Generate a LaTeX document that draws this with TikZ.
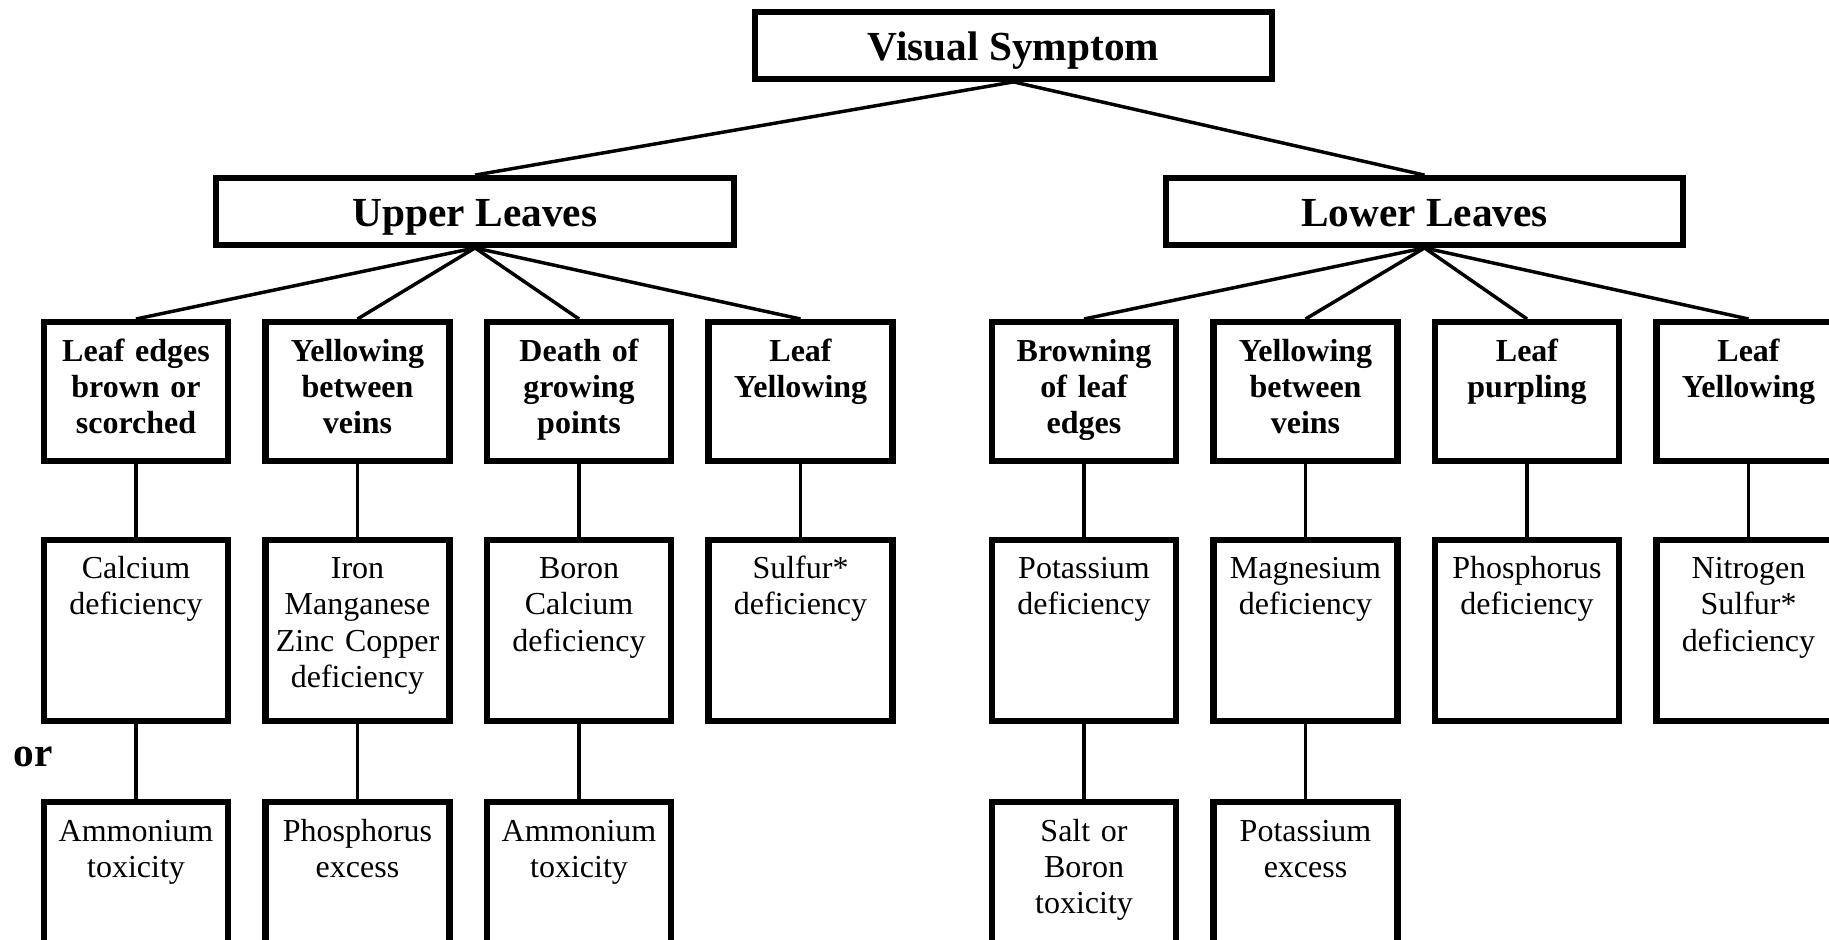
\documentclass[tikz,border=0pt]{standalone}
\usepackage{fontspec}
\setmainfont{Liberation Serif}
\begin{document}
\begin{tikzpicture}[x=0.375pt, y=-0.375pt,
    title/.style={draw, line width=2.3pt, inner sep=0pt, minimum width=194pt, minimum height=25pt, text height=11pt, text depth=0pt, font=\bfseries\fontsize{15.5}{18}\selectfont},
    symptom/.style={draw, line width=2.3pt, inner sep=0pt, anchor=north, text width=69pt, align=center, text height=14.6pt, text depth=37.5pt, font=\bfseries\fontsize{12}{13.6}\selectfont},
    cause/.style={draw, line width=2.3pt, inner sep=0pt, anchor=north, text width=69pt, align=center, text height=14.6pt, text depth=53.3pt, font=\fontsize{12}{13.6}\selectfont},
    link/.style={line width=1.3pt}]
    \useasboundingbox (0,0) rectangle (1829,939);
    \clip (0,0) rectangle (1829,939);

    % Top
    \node[title] (vs) at (1013.5,45.5) {Visual Symptom};
    \node[title] (ul) at (475,211.5) {Upper Leaves};
    \node[title] (ll) at (1424.5,211.5) {Lower Leaves};

    % Upper leaves symptoms
    \node[symptom] (u1) at (136,319) {Leaf edges\\brown or\\scorched};
    \node[symptom] (u2) at (357.5,319) {Yellowing\\between\\veins};
    \node[symptom] (u3) at (579,319) {Death of\\growing\\points};
    \node[symptom] (u4) at (800.5,319) {Leaf\\Yellowing};

    % Lower leaves symptoms
    \node[symptom] (l1) at (1084,319) {Browning\\of leaf\\edges};
    \node[symptom] (l2) at (1305.5,319) {Yellowing\\between\\veins};
    \node[symptom] (l3) at (1527,319) {Leaf\\purpling};
    \node[symptom] (l4) at (1748.5,319) {Leaf\\Yellowing};

    % Deficiencies
    \node[cause] (ud1) at (136,536.5) {Calcium\\deficiency};
    \node[cause] (ud2) at (357.5,536.5) {Iron\\Manganese\\Zinc Copper\\deficiency};
    \node[cause] (ud3) at (579,536.5) {Boron\\Calcium\\deficiency};
    \node[cause] (ud4) at (800.5,536.5) {Sulfur*\\deficiency};
    \node[cause] (ld1) at (1084,536.5) {Potassium\\deficiency};
    \node[cause] (ld2) at (1305.5,536.5) {Magnesium\\deficiency};
    \node[cause] (ld3) at (1527,536.5) {Phosphorus\\deficiency};
    \node[cause] (ld4) at (1748.5,536.5) {Nitrogen\\Sulfur*\\deficiency};

    % Toxicities
    \node[cause] (ut1) at (136,799) {Ammonium\\toxicity};
    \node[cause] (ut2) at (357.5,799) {Phosphorus\\excess};
    \node[cause] (ut3) at (579,799) {Ammonium\\toxicity};
    \node[cause] (lt1) at (1084,799) {Salt or\\Boron\\toxicity};
    \node[cause] (lt2) at (1305.5,799) {Potassium\\excess};

    \node[font=\bfseries\fontsize{15.5}{18}\selectfont] (or) at (33,757) {or};

    % Links
    \draw[link] (vs.south) -- (ul.north);
    \draw[link] (vs.south) -- (ll.north);
    \draw[link] (ul.south) -- (u1.north);
    \draw[link] (ul.south) -- (u2.north);
    \draw[link] (ul.south) -- (u3.north);
    \draw[link] (ul.south) -- (u4.north);
    \draw[link] (ll.south) -- (l1.north);
    \draw[link] (ll.south) -- (l2.north);
    \draw[link] (ll.south) -- (l3.north);
    \draw[link] (ll.south) -- (l4.north);
    \draw[link] (u1.south) -- (ud1.north);
    \draw[link] (u2.south) -- (ud2.north);
    \draw[link] (u3.south) -- (ud3.north);
    \draw[link] (u4.south) -- (ud4.north);
    \draw[link] (l1.south) -- (ld1.north);
    \draw[link] (l2.south) -- (ld2.north);
    \draw[link] (l3.south) -- (ld3.north);
    \draw[link] (l4.south) -- (ld4.north);
    \draw[link] (ud1.south) -- (ut1.north);
    \draw[link] (ud2.south) -- (ut2.north);
    \draw[link] (ud3.south) -- (ut3.north);
    \draw[link] (ld1.south) -- (lt1.north);
    \draw[link] (ld2.south) -- (lt2.north);
\end{tikzpicture}
\end{document}
